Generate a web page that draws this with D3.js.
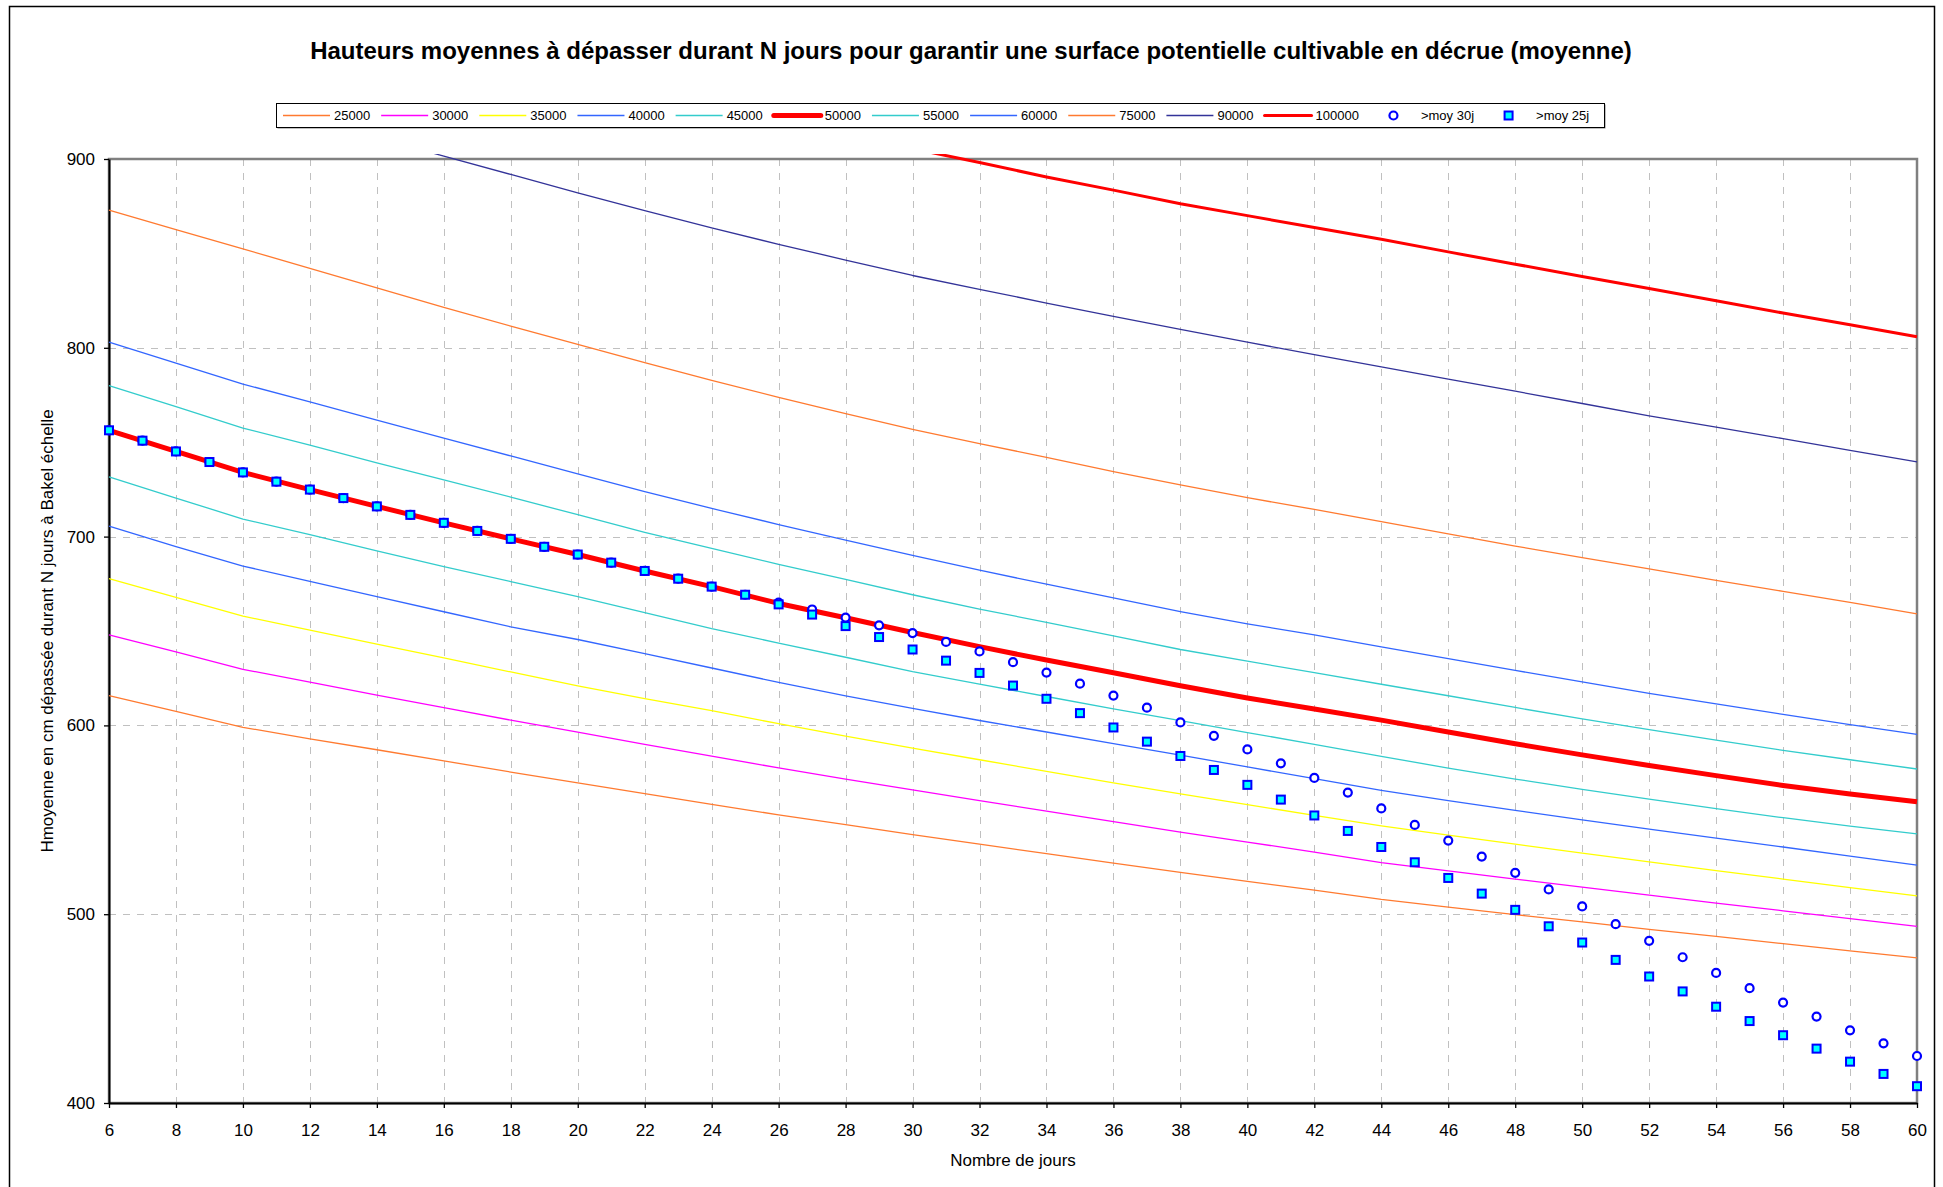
<!DOCTYPE html>
<html>
<head>
<meta charset="utf-8">
<script src="https://cdn.jsdelivr.net/npm/d3@7"></script>
<style>
  html, body { margin: 0; padding: 0; background: #fff; }
  svg { display: block; font-family: "Liberation Sans", Arial, sans-serif; }
</style>
</head>
<body>
<svg id="chart" width="1943" height="1187"></svg>
<script>
// Durées (jours) où les courbes de surface sont tabulées
const jours = [6, 8, 10, 12, 14, 16, 18, 20, 22, 24, 26, 28, 30, 32, 34, 36, 38, 40, 42, 44, 46, 48, 50, 52, 54, 56, 58, 60];

// Hauteur moyenne (cm à l'échelle de Bakel) par surface cultivable visée (ha)
const h25000 = [615.8, 607.4, 599.0, 592.9, 587.1, 581.2, 575.3, 569.6, 563.9, 558.2, 552.6, 547.4, 542.2, 537.1, 532.1, 527.1, 522.2, 517.4, 512.7, 507.8, 503.8, 499.8, 495.9, 492.0, 488.2, 484.4, 480.6, 476.9];
const h30000 = [648.0, 638.9, 629.7, 622.9, 616.0, 609.4, 602.8, 596.4, 590.0, 583.7, 577.5, 571.6, 565.8, 560.2, 554.6, 549.0, 543.5, 538.2, 532.9, 527.3, 522.9, 518.6, 514.3, 510.1, 505.9, 501.8, 497.7, 493.6];
const h35000 = [677.7, 667.8, 657.9, 650.5, 643.1, 635.8, 628.3, 620.9, 614.2, 607.8, 600.9, 594.3, 588.0, 581.8, 575.7, 569.6, 563.7, 558.0, 552.4, 546.8, 541.9, 537.1, 532.3, 527.7, 523.1, 518.6, 514.1, 509.7];
const h40000 = [705.5, 694.7, 684.4, 676.3, 668.2, 660.2, 652.2, 645.5, 638.0, 630.4, 622.8, 615.6, 609.0, 602.6, 596.5, 590.4, 584.3, 578.0, 571.8, 565.6, 560.2, 555.0, 550.0, 545.1, 540.3, 535.6, 530.8, 526.0];
const h45000 = [731.6, 720.4, 709.3, 701.0, 692.5, 684.1, 676.2, 668.2, 659.7, 651.2, 643.6, 636.1, 628.5, 621.9, 615.3, 608.8, 602.5, 596.2, 590.0, 583.6, 577.4, 571.6, 566.1, 560.9, 555.9, 551.1, 546.7, 542.5];
const h50000 = [756.3, 745.1, 734.0, 724.9, 716.0, 707.3, 698.8, 690.5, 681.8, 673.5, 664.6, 657.0, 649.2, 641.7, 634.6, 627.9, 621.0, 614.5, 608.7, 602.8, 596.5, 590.3, 584.4, 578.8, 573.4, 568.2, 563.7, 559.6];
const h55000 = [780.0, 768.8, 757.5, 748.4, 739.1, 730.0, 720.9, 711.6, 702.3, 693.8, 685.3, 677.3, 669.2, 661.6, 654.6, 647.4, 640.2, 634.0, 628.0, 621.8, 615.7, 609.5, 603.4, 597.8, 592.2, 586.8, 581.8, 576.9];
const h60000 = [803.0, 791.9, 780.8, 771.3, 761.7, 752.2, 742.7, 733.2, 723.8, 714.9, 706.4, 698.1, 690.0, 682.2, 674.8, 667.6, 660.3, 653.8, 647.9, 641.6, 635.4, 629.1, 623.1, 617.0, 611.4, 605.8, 600.4, 595.2];
const h75000 = [872.9, 862.6, 852.4, 842.1, 831.8, 821.4, 811.5, 801.8, 792.2, 782.7, 773.8, 765.1, 756.8, 749.2, 742.0, 734.4, 727.4, 720.6, 714.4, 707.9, 701.5, 695.0, 688.9, 682.9, 676.8, 671.0, 665.2, 659.1];
const h90000 = [null, null, null, null, 911.5, 901.5, 891.8, 882.0, 872.6, 863.5, 854.8, 846.5, 838.3, 831.0, 823.7, 816.6, 809.7, 803.0, 796.4, 789.9, 783.4, 777.0, 770.5, 764.0, 758.0, 751.9, 745.7, 739.6];
const h100000 = [null, null, null, null, null, null, null, null, null, null, null, null, 905.5, 898.1, 890.5, 883.5, 876.3, 870.0, 863.7, 857.5, 850.8, 844.3, 837.8, 831.4, 824.9, 818.4, 812.2, 805.9];

// Moyennes observées, jour par jour
const joursMoy = [6, 7, 8, 9, 10, 11, 12, 13, 14, 15, 16, 17, 18, 19, 20, 21, 22, 23, 24, 25, 26, 27, 28, 29, 30, 31, 32, 33, 34, 35, 36, 37, 38, 39, 40, 41, 42, 43, 44, 45, 46, 47, 48, 49, 50, 51, 52, 53, 54, 55, 56, 57, 58, 59, 60];
const moy30j = [756.3, 750.8, 745.1, 739.5, 734.0, 729.1, 724.9, 720.4, 716.0, 711.5, 707.3, 703.0, 698.8, 694.6, 690.5, 686.2, 681.8, 677.7, 673.5, 669.2,
                665.0, 661.4, 657.1, 653.0, 648.9, 644.2, 639.2, 633.5, 628.0, 622.1, 615.8, 609.4, 601.6, 594.5, 587.3, 579.9, 572.2, 564.4, 556.0, 547.3,
                539.0, 530.5, 521.9, 513.1, 504.1, 494.7, 485.9, 477.2, 468.9, 460.8, 453.2, 445.8, 438.5, 431.6, 424.9];
const moy25j = [756.3, 750.8, 745.1, 739.5, 734.0, 729.1, 724.9, 720.4, 716.0, 711.5, 707.3, 703.0, 698.8, 694.6, 690.5, 686.2, 681.8, 677.7, 673.5, 669.2,
                664.1, 658.7, 652.6, 646.8, 640.2, 634.3, 627.8, 621.1, 614.1, 606.5, 598.9, 591.4, 583.8, 576.4, 568.5, 560.7, 552.3, 544.1, 535.6, 527.5,
                519.2, 510.9, 502.3, 493.6, 485.0, 475.8, 467.0, 459.1, 451.0, 443.4, 435.9, 428.8, 421.9, 415.4, 408.9];

// Graduations
const xTicks = [6, 8, 10, 12, 14, 16, 18, 20, 22, 24, 26, 28, 30, 32, 34, 36, 38, 40, 42, 44, 46, 48, 50, 52, 54, 56, 58, 60];
const yTicks = [400, 500, 600, 700, 800, 900];

const titre = "Hauteurs moyennes à dépasser durant N jours pour garantir une surface potentielle cultivable en décrue (moyenne)";
const titreX = "Nombre de jours";
const titreY = "Hmoyenne en cm dépassée durant N jours à Bakel échelle";

// Séries de courbes : libellé, valeurs, couleur, épaisseur
const ORANGE = "#ff7a30", MAGENTA = "#ff00ff", JAUNE = "#ffff00", BLEU = "#3366ff",
      TURQUOISE = "#33cccc", ROUGE = "#ff0000", INDIGO = "#333399";
const courbes = [
  { nom: "25000", v: h25000, c: ORANGE, w: 1.3 },
  { nom: "30000", v: h30000, c: MAGENTA, w: 1.3 },
  { nom: "35000", v: h35000, c: JAUNE, w: 1.3 },
  { nom: "40000", v: h40000, c: BLEU, w: 1.3 },
  { nom: "45000", v: h45000, c: TURQUOISE, w: 1.3 },
  { nom: "50000", v: h50000, c: ROUGE, w: 5 },
  { nom: "55000", v: h55000, c: TURQUOISE, w: 1.3 },
  { nom: "60000", v: h60000, c: BLEU, w: 1.3 },
  { nom: "75000", v: h75000, c: ORANGE, w: 1.3 },
  { nom: "90000", v: h90000, c: INDIGO, w: 1.3 },
  { nom: "100000", v: h100000, c: ROUGE, w: 3 }
];

const plot = { left: 109, right: 1917, top: 159, bottom: 1103 };
const svg = d3.select("#chart");

// Cadre général du graphique
svg.append("rect")
  .attr("x", 9.5).attr("y", 6.5).attr("width", 1925).attr("height", 1200)
  .attr("fill", "#fff").attr("stroke", "#000").attr("stroke-width", 1.5);

const x = d3.scaleLinear().domain([6, 60]).range([plot.left, plot.right]);
const y = d3.scaleLinear().domain([400, 900]).range([plot.bottom, plot.top]);

// Quadrillage pointillé
const grid = svg.append("g").attr("stroke", "#c0c0c0").attr("stroke-width", 1).attr("stroke-dasharray", "7,7");
grid.selectAll("line.v").data(xTicks.filter(d => d > 6 && d < 60)).join("line")
  .attr("class", "v")
  .attr("x1", d => Math.round(x(d)) + 0.5).attr("x2", d => Math.round(x(d)) + 0.5)
  .attr("y1", plot.top).attr("y2", plot.bottom);
grid.selectAll("line.h").data(yTicks.filter(d => d > 400 && d < 900)).join("line")
  .attr("class", "h")
  .attr("x1", plot.left).attr("x2", plot.right)
  .attr("y1", d => Math.round(y(d)) + 0.5).attr("y2", d => Math.round(y(d)) + 0.5);

// Bordure de la zone de tracé
svg.append("rect")
  .attr("x", plot.left).attr("y", plot.top)
  .attr("width", plot.right - plot.left).attr("height", plot.bottom - plot.top)
  .attr("fill", "none").attr("stroke", "#808080").attr("stroke-width", 2.5);

// Axes
const axisX = svg.append("g").attr("transform", `translate(0,${plot.bottom})`)
  .call(d3.axisBottom(x).tickValues(xTicks).tickSize(5).tickSizeOuter(0).tickPadding(16).tickFormat(d3.format("d")));
const axisY = svg.append("g").attr("transform", `translate(${plot.left},0)`)
  .call(d3.axisLeft(y).tickValues(yTicks).tickSize(5).tickSizeOuter(0).tickPadding(9).tickFormat(d3.format("d")));
[axisX, axisY].forEach(g => {
  g.select(".domain").attr("stroke", "#000").attr("stroke-width", 2);
  g.selectAll(".tick line").attr("stroke", "#000").attr("stroke-width", 1.3);
  g.selectAll(".tick text").attr("fill", "#000").style("font-size", "17px")
    .style("font-family", '"Liberation Sans", Arial, sans-serif');
});

// Titres
svg.append("text")
  .attr("x", 971).attr("y", 59).attr("text-anchor", "middle")
  .style("font-size", "24px").style("font-weight", "bold").text(titre);
svg.append("text")
  .attr("x", (plot.left + plot.right) / 2).attr("y", 1166).attr("text-anchor", "middle")
  .style("font-size", "17px").text(titreX);
svg.append("text")
  .attr("transform", `translate(53,${(plot.top + plot.bottom) / 2}) rotate(-90)`)
  .attr("text-anchor", "middle")
  .style("font-size", "17px").text(titreY);

// Courbes (légèrement débordantes en haut, comme le tracé d'origine)
svg.append("clipPath").attr("id", "zone")
  .append("rect").attr("x", plot.left - 6).attr("y", plot.top - 5)
  .attr("width", plot.right - plot.left + 12).attr("height", plot.bottom - plot.top + 5);

const line = d3.line()
  .defined(d => d[1] != null)
  .x(d => x(d[0])).y(d => y(d[1]));

svg.append("g").attr("clip-path", "url(#zone)")
  .selectAll("path").data(courbes).join("path")
  .attr("fill", "none")
  .attr("stroke", d => d.c)
  .attr("stroke-width", d => d.w)
  .attr("stroke-linejoin", "round")
  .attr("d", d => line(jours.map((j, i) => [j, d.v[i]])));

// Marqueurs des moyennes observées
svg.append("g").selectAll("circle").data(joursMoy.map((j, i) => [j, moy30j[i]])).join("circle")
  .attr("cx", d => x(d[0])).attr("cy", d => y(d[1])).attr("r", 4)
  .attr("fill", "#fff").attr("stroke", "#0000ff").attr("stroke-width", 2.2);
svg.append("g").selectAll("rect").data(joursMoy.map((j, i) => [j, moy25j[i]])).join("rect")
  .attr("x", d => x(d[0]) - 4).attr("y", d => y(d[1]) - 4)
  .attr("width", 8).attr("height", 8)
  .attr("fill", "#00ffff").attr("stroke", "#0000ff").attr("stroke-width", 2);

// Légende
const leg = { x: 276, y: 103, w: 1328, h: 24 };
svg.append("rect").attr("x", leg.x + 1.5).attr("y", leg.y + 1.5).attr("width", leg.w).attr("height", leg.h)
  .attr("fill", "#808080");
svg.append("rect").attr("x", leg.x + 0.5).attr("y", leg.y + 0.5).attr("width", leg.w).attr("height", leg.h)
  .attr("fill", "#fff").attr("stroke", "#000").attr("stroke-width", 1);

const entrees = courbes.map(c => ({ nom: c.nom, type: "ligne", c: c.c, w: c.w }))
  .concat([{ nom: ">moy 30j", type: "rond" }, { nom: ">moy 25j", type: "carre" }]);
const ly = leg.y + leg.h / 2 + 0.5;
const echantillon = 47;
let cx = leg.x + 7;
const gLeg = svg.append("g");
entrees.forEach(e => {
  const g = gLeg.append("g");
  if (e.type === "ligne") {
    g.append("line").attr("x1", cx).attr("x2", cx + echantillon).attr("y1", ly).attr("y2", ly)
      .attr("stroke", e.c).attr("stroke-width", e.w).attr("stroke-linecap", e.w > 2 ? "round" : "butt");
  } else if (e.type === "rond") {
    g.append("circle").attr("cx", cx + echantillon / 2).attr("cy", ly).attr("r", 4)
      .attr("fill", "#fff").attr("stroke", "#0000ff").attr("stroke-width", 2.2);
  } else {
    g.append("rect").attr("x", cx + echantillon / 2 - 4).attr("y", ly - 4).attr("width", 8).attr("height", 8)
      .attr("fill", "#00ffff").attr("stroke", "#0000ff").attr("stroke-width", 2);
  }
  const t = g.append("text").attr("x", cx + echantillon + 4).attr("y", ly).attr("dy", "0.35em")
    .style("font-size", "13px").text(e.nom);
  cx += echantillon + 4 + t.node().getComputedTextLength() + 11;
});
</script>
</body>
</html>
